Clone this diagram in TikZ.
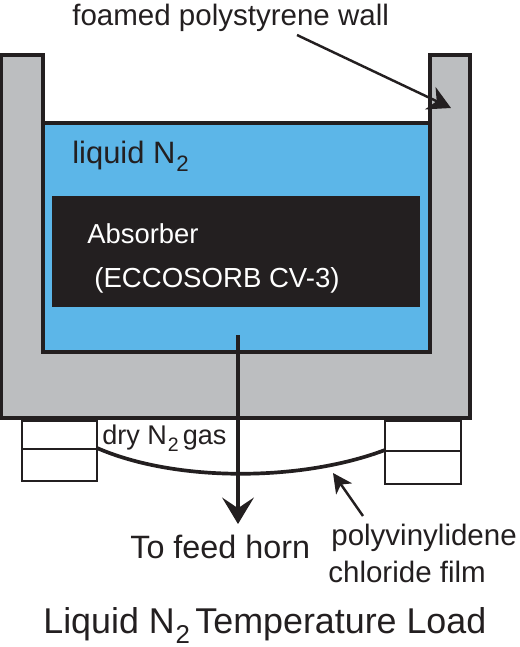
\documentclass[tikz,border=0pt]{standalone}
\usepackage{fontspec}
\setmainfont{Liberation Sans}
\usetikzlibrary{arrows.meta}
\definecolor{wallgray}{HTML}{BCBEC0}
\definecolor{ntwoblue}{HTML}{5CB6E8}
\definecolor{inkblack}{HTML}{231F20}
\newcommand{\ntwo}{N\kern.5pt\raisebox{-.28em}{\scalebox{.72}{2}}}
\tikzset{
  lbl/.style={anchor=base west,inner sep=0pt,text=inkblack,font=\fontsize{16.8}{20}\selectfont},
  part/.style={draw=inkblack,line width=2.3pt},
  flange/.style={draw=inkblack,line width=1.5pt},
  every picture/.style={line join=miter}}

\begin{document}
\begin{tikzpicture}[x=0.02cm,y=-0.02cm]
  \useasboundingbox (0,0) rectangle (520,647);
  % cryostat
  \fill[ntwoblue] (43,123) rectangle (430,352);
  \draw[part,fill=wallgray] (1,55)--(43,55)--(43,352)--(430,352)--(430,55)--(470,55)--(470,418)--(1,418)--cycle;
  \draw[part] (43,123)--(430,123);
  \node[fill=inkblack,inner sep=0pt,minimum width=368*0.02cm,minimum height=111*0.02cm] (absorber) at (236,251.5) {};
  % flanges
  \draw[flange] (22,421) rectangle (97,449) (22,449) rectangle (97,481);
  \draw[flange] (385,421) rectangle (461,451) (385,451) rectangle (461,484);
  \coordinate (filml) at (97,448); \coordinate (filmr) at (385,450);
  \draw[inkblack,line width=2.1pt] (filml) .. controls (175,482) and (300,482) .. (filmr);
  % arrows
  \coordinate (out) at (238,335); \coordinate (horn) at (238,524);
  \draw[inkblack,line width=2pt,-{Stealth[length=15pt,width=18pt,inset=6pt]}] (out)--(horn);
  \coordinate (wallfrom) at (297,35); \coordinate (wallto) at (451,108);
  \draw[inkblack,line width=1.4pt,-{Stealth[length=13pt,width=14pt,inset=4pt]}] (wallfrom)--(wallto);
  \coordinate (filmfrom) at (363,516); \coordinate (filmto) at (333,473);
  \draw[inkblack,line width=1.4pt,-{Stealth[length=11pt,width=11pt,inset=3pt]}] (filmfrom)--(filmto);
  % labels
  \node[lbl] (wall) at (72,25) {foamed polystyrene wall};
  \node[lbl,font=\fontsize{17.6}{21}\selectfont] (liquid) at (72,163) {liquid \ntwo};
  \node[lbl,text=white,font=\fontsize{15.6}{19}\selectfont] (abs) at (87,243) {Absorber};
  \node[lbl,text=white,font=\fontsize{15.7}{19}\selectfont] (ecco) at (94,287) {(ECCOSORB CV-3)};
  \node[lbl,font=\fontsize{15.4}{18}\selectfont] (gas) at (102,444) {dry \ntwo\kern.15em gas};
  \node[lbl,font=\fontsize{18.4}{22}\selectfont] (feed) at (130,558) {To feed horn};
  \node[lbl] (poly) at (331,545) {polyvinylidene};
  \node[lbl] (chlor) at (328,582) {chloride film};
  \node[lbl,font=\fontsize{20.4}{24}\selectfont] (title) at (43,633) {Liquid \ntwo\kern.15em Temperature Load};
\end{tikzpicture}
\end{document}
